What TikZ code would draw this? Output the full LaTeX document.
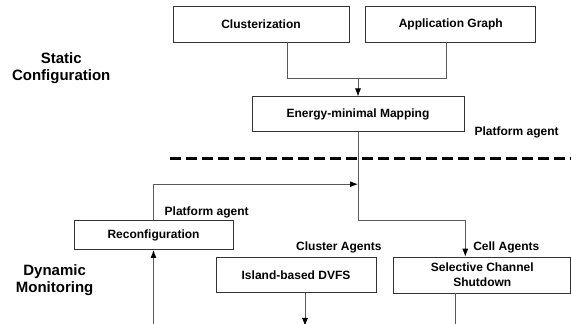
\documentclass[tikz,border=0pt]{standalone}
\usepackage{fontspec}
\setmainfont{Liberation Sans}
\usetikzlibrary{arrows.meta, positioning}

\begin{document}
\begin{tikzpicture}[
    x=1pt, y=1pt,
    box/.style={rectangle, draw=black!80, line width=0.8pt, minimum width=170pt, minimum height=36pt, align=center, inner sep=2pt, font=\bfseries\fontsize{12}{15}\selectfont},
    tag/.style={inner sep=0pt, font=\bfseries\fontsize{12}{15}\selectfont},
    side/.style={align=center, inner sep=0pt, font=\bfseries\fontsize{15}{17.5}\selectfont},
    line/.style={draw=black!65, line width=0.8pt},
    arrow/.style={line, -{Latex[length=8pt,width=6pt,color=black]}},
    sep/.style={line width=3pt, dash pattern=on 11pt off 5pt}
]
    \useasboundingbox (0,0) rectangle (571,324);

    % Static configuration
    \node [box, minimum width=176pt] (clust) at (261,300) {Clusterization};
    \node [box, right=16pt of clust] (appgraph) {Application Graph};
    \node [box, below=54pt of clust, xshift=97pt, minimum width=212pt, minimum height=35pt] (mapping) {Energy-minimal Mapping};

    % Dynamic monitoring
    \node [box, below=88pt of mapping, xshift=-204.5pt, minimum width=159pt, minimum height=29pt] (reconf) {Reconfiguration};
    \node [box, below=125pt of mapping, xshift=-62pt, minimum width=160pt, minimum height=35pt] (dvfs) {Island-based DVFS};
    \node [box, right=17pt of dvfs, minimum width=177pt] (shutdown) {Selective Channel\\Shutdown};

    % Labels
    \node [side, left=62pt of clust, yshift=-44pt] (static) {Static\\Configuration};
    \node [side, below=14pt of reconf.south west, xshift=-19pt] (dynamic) {Dynamic\\Monitoring};
    \node [tag, right=10pt of mapping.south east] (mapagent) {Platform agent};
    \node [tag, above right=2pt and 11pt of reconf.north] (reconfagent) {Platform agent};
    \node [tag, above right=4pt and 0pt of dvfs.north] (clusteragents) {Cluster Agents};
    \node [tag, above=3pt of shutdown.north, xshift=24pt] (cellagents) {Cell Agents};

    % Helper points
    \coordinate [above=18pt of mapping] (merge);
    \coordinate [below=52pt of mapping] (join);
    \coordinate [below=88pt of mapping] (turn);
    \coordinate [below=76pt of reconf] (reconfin);
    \coordinate [below=33pt of dvfs, xshift=9pt] (dvfsout);
    \coordinate [below=33pt of shutdown, xshift=-27pt] (shutout);
    \coordinate (sepleft) at (170,165);
    \coordinate (sepright) at (571,165);

    % Connections
    \draw [line] ([xshift=26pt]clust.south) |- (merge) -| ([xshift=-4pt]appgraph.south);
    \draw [arrow] (merge) -- (mapping);
    \draw [arrow] (mapping) -- (turn) -| ([xshift=-17pt]shutdown.north);
    \draw [arrow] (reconf) |- (join);
    \draw [arrow] (reconfin) -- (reconf);
    \draw [arrow] (dvfs.south -| dvfsout) -- (dvfsout);
    \draw [line] (shutdown.south -| shutout) -- (shutout);
    \draw [sep] (sepleft) -- (sepright);
\end{tikzpicture}
\end{document}
